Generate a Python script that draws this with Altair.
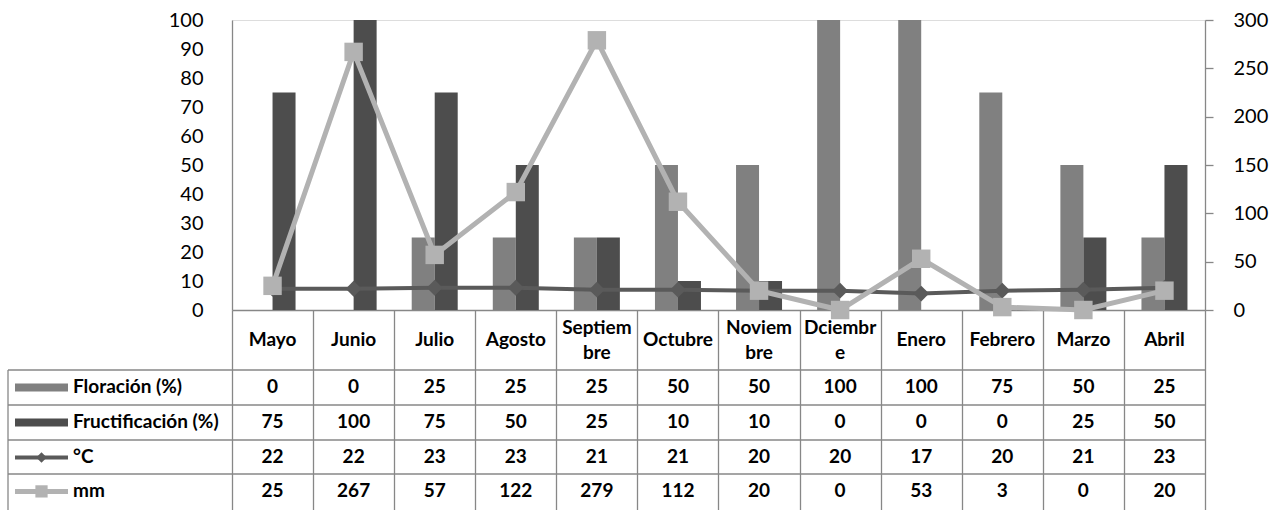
import altair as alt
import pandas as pd

# Monthly phenology, temperature and rainfall
months = ["Mayo", "Junio", "Julio", "Agosto", "Septiembre", "Octubre",
          "Noviembre", "Dciembre", "Enero", "Febrero", "Marzo", "Abril"]
month_labels = ["Mayo", "Junio", "Julio", "Agosto", "Septiem\nbre", "Octubre",
                "Noviem\nbre", "Dciembr\ne", "Enero", "Febrero", "Marzo", "Abril"]
floracion = [0, 0, 25, 25, 25, 50, 50, 100, 100, 75, 50, 25]
fructificacion = [75, 100, 75, 50, 25, 10, 10, 0, 0, 0, 25, 50]
temperatura = [22, 22, 23, 23, 21, 21, 20, 20, 17, 20, 21, 23]
lluvia = [25, 267, 57, 122, 279, 112, 20, 0, 53, 3, 0, 20]

series = ["Floración (%)", "Fructificación (%)"]
row_names = ["Floración (%)", "Fructificación (%)", "°C", "mm"]

FONT = "Lato"
GRID = "#878787"
C_FLOR = "#808080"
C_FRUC = "#4d4d4d"
C_TEMP = "#5a5a5a"
C_MM = "#b2b2b2"

W, H = 973, 290
LEFT, TOP = 232, 20

bars_df = pd.DataFrame({
    "month": months * 2,
    "serie": [series[0]] * 12 + [series[1]] * 12,
    "value": floracion + fructificacion,
})
lines_df = pd.DataFrame({"month": months, "temp": temperatura, "mm": lluvia})
header_df = pd.DataFrame({"month": months, "label": month_labels})

# one band per month; the ticks on the band edges form the table's column lines
x_enc = alt.X(
    "month:N",
    sort=months,
    scale=alt.Scale(domain=months, paddingInner=0, paddingOuter=0),
    axis=alt.Axis(title=None, labels=False, tickBand="extent", tickSize=200,
                  tickColor=GRID, domainColor=GRID, tickWidth=1.3, domainWidth=1.3,
                  grid=False),
)

bars = alt.Chart(bars_df).mark_bar().encode(
    x=x_enc,
    xOffset=alt.XOffset("serie:N", sort=series,
                        scale=alt.Scale(domain=series, paddingInner=0, paddingOuter=0.7627)),
    y=alt.Y("value:Q", scale=alt.Scale(domain=[0, 100], nice=False),
            axis=alt.Axis(title=None, values=list(range(0, 101, 10)), ticks=False,
                          grid=False, labelFont=FONT, labelFontSize=20,
                          labelColor="#000000", labelPadding=29,
                          domainColor=GRID, domainWidth=1.3)),
    color=alt.Color("serie:N", scale=alt.Scale(domain=series, range=[C_FLOR, C_FRUC]),
                    legend=None),
)

y_right = alt.Y(
    "v:Q",
    scale=alt.Scale(domain=[0, 300], nice=False),
    axis=alt.Axis(title=None, orient="right", values=list(range(0, 301, 50)),
                  tickSize=8, tickColor=GRID, tickWidth=1.3, grid=False,
                  labelFont=FONT, labelFontSize=20, labelColor="#000000",
                  labelPadding=20, domainColor=GRID, domainWidth=1.3),
)

temp_line = alt.Chart(lines_df).transform_calculate(v="datum.temp").mark_line(
    color=C_TEMP, strokeWidth=4,
    point=alt.OverlayMarkDef(shape="diamond", size=250, filled=True, color=C_TEMP, opacity=1),
).encode(x=x_enc, y=y_right)

mm_line = alt.Chart(lines_df).transform_calculate(v="datum.mm").mark_line(
    color=C_MM, strokeWidth=5,
    point=alt.OverlayMarkDef(shape="square", size=340, filled=True, color=C_MM, opacity=1),
).encode(x=x_enc, y=y_right)

lines = alt.layer(temp_line, mm_line)

# Data table below the plot
text_style = dict(font=FONT, fontSize=19, fontWeight="bold", color="#000000")
LINE_H = 25

# month headers: single-line names centred in the cell, wrapped names lifted by half a line
header_one = alt.Chart(header_df).transform_filter(
    "indexof(datum.label, '\\n') < 0"
).mark_text(baseline="middle", **text_style).encode(
    x=x_enc, y=alt.value(340 - TOP), text="label:N")
header_two = alt.Chart(header_df).transform_filter(
    "indexof(datum.label, '\\n') >= 0"
).mark_text(lineBreak="\n", lineHeight=LINE_H, baseline="middle",
            dy=-LINE_H / 2, **text_style).encode(
    x=x_enc, y=alt.value(340 - TOP), text="label:N")

row_values = [floracion, fructificacion, temperatura, lluvia]
row_tops = [370, 405, 440, 474]
row_h = 34.8

table_layers = [header_one, header_two]
for name, vals, top in zip(row_names, row_values, row_tops):
    cy = top + row_h / 2 - TOP
    df = pd.DataFrame({"month": months, "val": [str(v) for v in vals]})
    table_layers.append(
        alt.Chart(df).mark_text(baseline="middle", **text_style).encode(
            x=x_enc, y=alt.value(cy), text="val:N")
    )
    lab = pd.DataFrame({"name": [name]})
    table_layers.append(
        alt.Chart(lab).mark_text(baseline="middle", align="left", **text_style).encode(
            x=alt.value(73 - LEFT), y=alt.value(cy), text="name:N")
    )
    # horizontal rule on top of each row
    table_layers.append(
        alt.Chart(lab).mark_rule(color=GRID, strokeWidth=1.3).encode(
            x=alt.value(8 - LEFT), x2=alt.value(W), y=alt.value(top - TOP))
    )

one = pd.DataFrame({"k": [0]})
# left border of the row-label column
table_layers.append(
    alt.Chart(one).mark_rule(color=GRID, strokeWidth=1.3).encode(
        x=alt.value(8 - LEFT), y=alt.value(370 - TOP), y2=alt.value(510 - TOP))
)

# legend keys in the row-label column
kx0, kx1 = 15 - LEFT, 68 - LEFT
for top, col in zip(row_tops[:2], [C_FLOR, C_FRUC]):
    cy = top + row_h / 2 - TOP
    table_layers.append(
        alt.Chart(one).mark_rect(color=col).encode(
            x=alt.value(kx0), x2=alt.value(kx1), y=alt.value(cy - 4), y2=alt.value(cy + 4))
    )
for top, col, shape, size, sw in [(row_tops[2], C_TEMP, "diamond", 110, 4),
                                  (row_tops[3], C_MM, "square", 150, 5)]:
    cy = top + row_h / 2 - TOP
    table_layers.append(
        alt.Chart(one).mark_rule(color=col, strokeWidth=sw).encode(
            x=alt.value(kx0), x2=alt.value(kx1), y=alt.value(cy))
    )
    table_layers.append(
        alt.Chart(one).mark_point(shape=shape, size=size, filled=True, color=col, opacity=1).encode(
            x=alt.value((kx0 + kx1) / 2), y=alt.value(cy))
    )

chart = alt.layer(bars, lines, *table_layers).resolve_scale(
    y="independent"
).properties(
    width=W, height=H,
    padding={"left": LEFT, "top": TOP, "right": 1285 - LEFT - W, "bottom": 510 - TOP - H},
    autosize=alt.AutoSizeParams(type="none"),
).configure_view(stroke=None).configure(background="#ffffff")

chart.save("out.html", embed_options={"renderer": "svg", "actions": False})
